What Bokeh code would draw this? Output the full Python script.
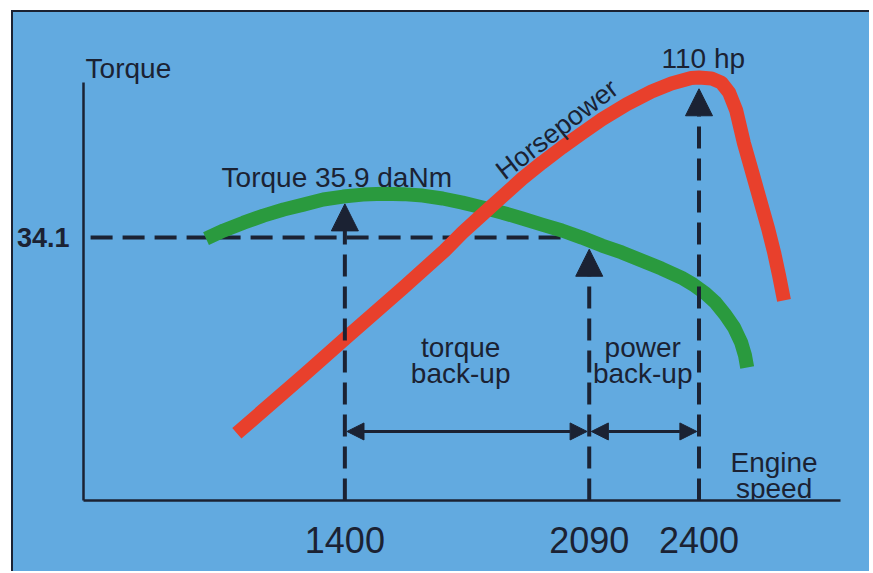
from bokeh.plotting import figure
from bokeh.models import Range1d, FixedTicker, Label, Arrow, NormalHead
from bokeh.embed import file_html
from bokeh.resources import INLINE

# ---------------- data ----------------
torque_rpm = [1008, 1058, 1114, 1170, 1227, 1283, 1339, 1395, 1451, 1508,
              1564, 1620, 1676, 1732, 1789, 1845, 1901, 1957, 2013, 2069,
              2126, 2182, 2238, 2294, 2350, 2384, 2418, 2446, 2474, 2499,
              2519, 2530, 2536]
torque_val = [34.06, 34.39, 34.71, 35.00, 35.25, 35.45, 35.66, 35.78, 35.86, 35.90,
              35.88, 35.82, 35.70, 35.53, 35.33, 35.12, 34.88, 34.63, 34.39, 34.10,
              33.77, 33.49, 33.16, 32.83, 32.46, 32.17, 31.81, 31.44, 30.94, 30.41,
              29.80, 29.26, 28.77]
hp_rpm = [1095, 1283, 1409, 1564, 1682, 1732, 1789, 1845, 1901, 1957,
          2013, 2069, 2126, 2196, 2266, 2322, 2378, 2400, 2435, 2463,
          2485, 2505, 2527, 2553, 2575, 2595, 2612, 2626, 2640]
hp_val = [34.3, 46.6, 55.0, 65.2, 73.2, 77.0, 80.9, 84.7, 88.5, 91.9,
          95.1, 98.1, 101.1, 104.3, 107.0, 108.7, 109.9, 110.0, 109.8, 108.9,
          106.8, 103.0, 96.0, 89.1, 83.2, 77.9, 72.8, 67.9, 62.6]
speed_ticks = [1400, 2090, 2400]
speed_labels = ["1400", "2090", "2400"]
torque_ref = 34.1
torque_ticks = [34.1]
peak_torque = 35.9
peak_hp = 110
# arrow tips (torque units for 1400/2090, hp units for 2400)
tip_1400 = 35.48
tip_2090 = 33.62
tip_2400_hp = 107.6
backup_level = 26.15

# ---------------- ranges ----------------
X0, X1 = 662, 2856
Y0, Y1 = 23.32, 43.08
HP0, HP1 = 20.0, 122.55
XAXIS_END = 2800
YAXIS_END = 40.45

BLUE = "#62aae0"
DARK = "#1b2233"
GREEN = "#2a9a3e"
RED = "#e8402c"
FONT = "Liberation Sans"

p = figure(width=858, height=561, output_backend="svg", toolbar_location=None,
           x_range=Range1d(X0, X1), y_range=Range1d(Y0, Y1),
           min_border_left=66, min_border_right=11, min_border_top=6,
           min_border_bottom=73, margin=(10, 0, 0, 11))
p.styles = {"background-color": BLUE,
            "border-top": "2px solid #1b2233",
            "border-left": "2px solid #1b2233"}
p.extra_y_ranges = {"hp": Range1d(HP0, HP1)}
p.background_fill_color = None
p.border_fill_color = None
p.outline_line_color = None
p.xgrid.visible = False
p.ygrid.visible = False

# axes
for ax in (p.xaxis[0], p.yaxis[0]):
    ax.axis_line_width = 2.5
    ax.axis_line_color = DARK
    ax.major_tick_line_color = None
    ax.minor_tick_line_color = None
    ax.major_label_text_color = DARK
    ax.major_label_text_font = FONT

p.xaxis.ticker = FixedTicker(ticks=speed_ticks)
p.xaxis.major_label_overrides = {t: l for t, l in zip(speed_ticks, speed_labels)}
p.xaxis.major_label_text_font_size = "36px"
p.xaxis.major_label_standoff = 20
p.xaxis.bounds = (X0, XAXIS_END)

p.yaxis.ticker = FixedTicker(ticks=torque_ticks)
p.yaxis.major_label_text_font_size = "27px"
p.yaxis.major_label_text_font_style = "bold"
p.yaxis.major_label_standoff = 8
p.yaxis.bounds = (Y0, YAXIS_END)

# 34.1 reference dashed line
p.line([682, 2030], [torque_ref, torque_ref], line_width=4, line_color=DARK,
       line_dash="22 10")

# curves
p.line(torque_rpm, torque_val, line_width=14, line_color=GREEN,
       line_join="round", line_cap="butt")
p.line(hp_rpm, hp_val, line_width=14, line_color=RED, y_range_name="hp",
       line_join="round", line_cap="butt")


def head(size):
    return NormalHead(size=size, fill_color=DARK, line_color=DARK, line_width=1)


# vertical dashed arrows
p.add_layout(Arrow(end=head(27), x_start=speed_ticks[0], y_start=Y0,
                   x_end=speed_ticks[0], y_end=tip_1400, line_width=4,
                   line_color=DARK, line_dash="22 10"))
p.add_layout(Arrow(end=head(27), x_start=speed_ticks[1], y_start=Y0,
                   x_end=speed_ticks[1], y_end=tip_2090, line_width=4,
                   line_color=DARK, line_dash="22 10"))
p.add_layout(Arrow(end=head(27), x_start=speed_ticks[2], y_start=HP0,
                   x_end=speed_ticks[2], y_end=tip_2400_hp, line_width=4,
                   line_color=DARK, line_dash="22 10", y_range_name="hp"))

# back-up double arrows
p.add_layout(Arrow(start=head(17), end=head(17), x_start=speed_ticks[0] + 6,
                   y_start=backup_level, x_end=speed_ticks[1] - 6,
                   y_end=backup_level, line_width=3, line_color=DARK))
p.add_layout(Arrow(start=head(17), end=head(17), x_start=speed_ticks[1] + 6,
                   y_start=backup_level, x_end=speed_ticks[2] - 6,
                   y_end=backup_level, line_width=3, line_color=DARK))


# texts
def lab(x, y, text, size="28px", align="left", angle=0, rn="default"):
    p.add_layout(Label(x=x, y=y, text=text, text_font=FONT, text_font_size=size,
                       text_color=DARK, text_align=align,
                       text_baseline="alphabetic", angle=angle,
                       angle_units="deg", y_range_name=rn))


lab(668, 41.03, "Torque")
lab(1052, 36.56, f"Torque {peak_torque} daNm")
lab(2294, 114.0, f"{peak_hp} hp", rn="hp")
lab(1836, 36.72, "Horsepower", "27px", angle=37.5)
lab(1727, 29.59, "torque", align="center")
lab(1727, 28.53, "back-up", align="center")
lab(2241, 29.59, "power", align="center")
lab(2241, 28.53, "back-up", align="center")
lab(2612, 24.88, "Engine", align="center")
lab(2612, 23.81, "speed", align="center")

open("out.html", "w").write(file_html(p, INLINE))
